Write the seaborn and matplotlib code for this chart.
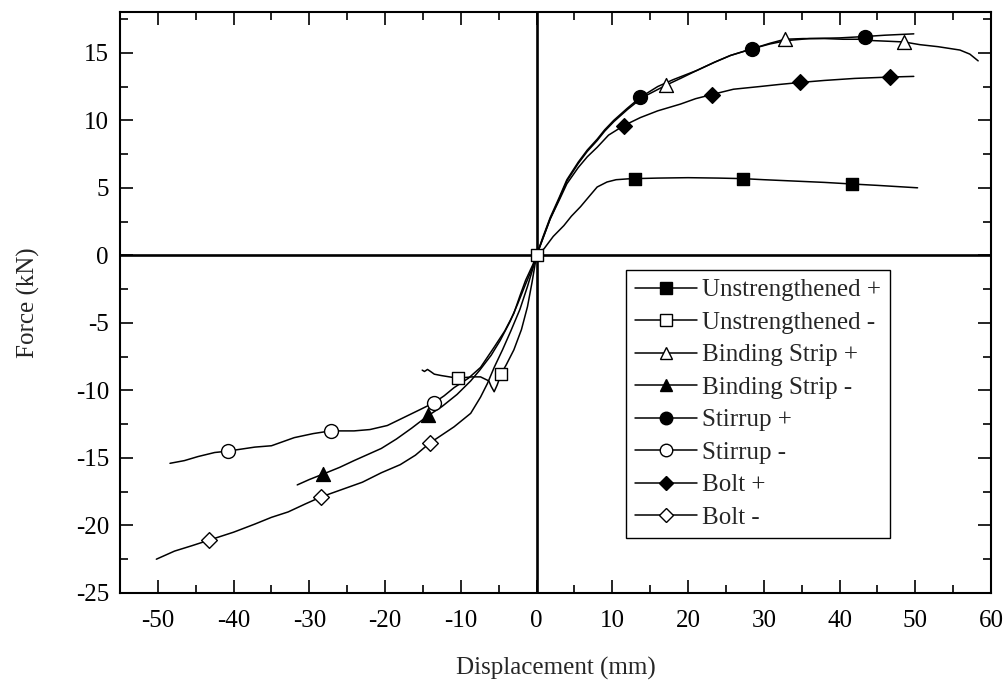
import numpy as np
import pandas as pd
import matplotlib
matplotlib.use("Agg")
import matplotlib.pyplot as plt
from matplotlib.lines import Line2D
from matplotlib.ticker import MultipleLocator
import seaborn as sns

# ---------------- data ----------------
series_names = ["Unstrengthened +", "Unstrengthened -", "Binding Strip +", "Binding Strip -",
                "Stirrup +", "Stirrup -", "Bolt +", "Bolt -"]

unstr_pos_x = [0, 1.0, 2.2, 3.6, 4.6, 5.8, 7.0, 8.0, 9.3, 10.5, 12, 13, 16, 20, 24, 27.2, 30, 34, 38, 41.7, 45, 50.3]
unstr_pos_y = [0, 0.5, 1.4, 2.2, 2.9, 3.6, 4.4, 5.06, 5.43, 5.6, 5.66, 5.68, 5.72, 5.75, 5.72, 5.68, 5.6, 5.5, 5.4, 5.28, 5.18, 5.0]
unstr_pos_mx = [13.0, 27.3, 41.7]
unstr_pos_my = [5.65, 5.68, 5.27]

unstr_neg_x = [0, -0.6, -1.2, -2.0, -3.0, -4.0, -4.7, -5.2, -5.6, -6.0, -6.3, -7.4, -8.5, -9.5, -10.4, -11.5, -12.6, -13.5, -14.0, -14.4, -14.8, -15.1]
unstr_neg_y = [0, -2.0, -3.8, -5.5, -7.0, -8.1, -8.8, -9.6, -10.1, -9.7, -9.3, -9.0, -9.0, -9.05, -9.1, -9.0, -8.9, -8.8, -8.6, -8.45, -8.6, -8.5]
unstr_neg_mx = [0, -4.7, -10.4]
unstr_neg_my = [0, -8.8, -9.1]

bind_pos_x = [0, 0.8, 1.8, 3.0, 4.0, 5.5, 6.7, 8.0, 9.0, 10.2, 12, 14, 17.1, 19, 21.2, 23.5, 25.6, 28.5, 30.8, 32.8,
              35.2, 38, 40.5, 43, 44.4, 46.5, 48.5, 50.6, 53, 55.9, 57.2, 58.3]
bind_pos_y = [0, 1.2, 2.7, 4.2, 5.5, 6.8, 7.7, 8.5, 9.2, 9.9, 10.8, 11.7, 12.6, 13.1, 13.7, 14.3, 14.8, 15.3, 15.7, 16.0,
              16.05, 16.05, 16.0, 16.0, 15.9, 15.85, 15.8, 15.6, 15.45, 15.2, 14.9, 14.4]
bind_pos_mx = [17.1, 32.8, 48.5]
bind_pos_my = [12.6, 16.05, 15.8]

bind_neg_x = [0, -0.6, -1.5, -2.5, -3.5, -4.8, -6.0, -7.5, -8.7, -10.5, -12.5, -14.4, -16.5, -18.5, -20.5, -22.5, -24.1,
              -26, -28.2, -30, -31.6]
bind_neg_y = [0, -1.0, -2.2, -3.6, -4.9, -6.3, -7.4, -8.5, -9.3, -10.3, -11.2, -11.9, -12.8, -13.6, -14.3, -14.8, -15.2,
              -15.7, -16.2, -16.6, -17.0]
bind_neg_mx = [-14.3, -28.2]
bind_neg_my = [-11.8, -16.2]

stir_pos_x = [0, 0.8, 1.8, 3.0, 4.0, 5.5, 6.7, 8.0, 9.0, 10.2, 12, 13.7, 16, 18, 21.2, 23.5, 25.6, 28.5, 30.8, 33, 36,
              40, 43.3, 46, 49.8]
stir_pos_y = [0, 1.3, 2.8, 4.3, 5.6, 6.9, 7.8, 8.6, 9.3, 10.0, 10.9, 11.7, 12.5, 13.0, 13.7, 14.3, 14.8, 15.3, 15.65,
              15.9, 16.05, 16.1, 16.2, 16.3, 16.4]
stir_pos_mx = [13.7, 28.5, 43.3]
stir_pos_my = [11.7, 15.3, 16.2]

stir_neg_x = [0, -0.5, -1.45, -2.2, -3.0, -4.2, -5.6, -7.4, -9.0, -10.9, -12.2, -13.5, -15.3, -17.5, -19.7, -22, -24.1,
              -27.2, -29.5, -32.0, -35.0, -37.2, -40.8, -42.5, -44.7, -46.5, -48.4]
stir_neg_y = [0, -0.7, -1.85, -3.0, -4.3, -5.6, -6.8, -8.3, -9.1, -9.8, -10.4, -10.9, -11.4, -12.0, -12.6, -12.9, -13.0,
              -13.0, -13.2, -13.5, -14.1, -14.2, -14.5, -14.6, -14.9, -15.2, -15.4]
stir_neg_mx = [-13.5, -27.2, -40.8]
stir_neg_my = [-10.9, -13.0, -14.5]

bolt_pos_x = [0, 0.8, 1.8, 3.0, 4.0, 5.5, 6.7, 8.0, 9.5, 11.5, 13.7, 16, 19, 21, 23.1, 26, 29.5, 32, 34.8, 38, 42, 46.6, 49.8]
bolt_pos_y = [0, 1.2, 2.7, 4.1, 5.3, 6.5, 7.3, 8.0, 8.9, 9.6, 10.2, 10.7, 11.2, 11.6, 11.9, 12.3, 12.5, 12.65, 12.8,
              12.95, 13.1, 13.2, 13.25]
bolt_pos_mx = [11.5, 23.1, 34.8, 46.6]
bolt_pos_my = [9.6, 11.9, 12.8, 13.2]

bolt_neg_x = [0, -0.5, -1.2, -2.2, -3.4, -4.5, -5.6, -6.5, -7.4, -8.7, -10.9, -12.5, -14.1, -16, -18, -20.5, -23, -25.5,
              -28.5, -30.5, -32.8, -35, -37.2, -40, -43.3, -45.5, -47.8, -50.2]
bolt_neg_y = [0, -1.0, -2.3, -4.0, -5.6, -7.0, -8.3, -9.5, -10.5, -11.7, -12.7, -13.3, -13.9, -14.8, -15.5, -16.1, -16.8,
              -17.3, -17.9, -18.4, -19.0, -19.4, -19.9, -20.5, -21.1, -21.5, -21.9, -22.5]
bolt_neg_mx = [-14.1, -28.5, -43.3]
bolt_neg_my = [-13.9, -17.9, -21.1]

x_ticks = [-50, -40, -30, -20, -10, 0, 10, 20, 30, 40, 50, 60]
y_ticks = [-25, -20, -15, -10, -5, 0, 5, 10, 15]

curves = {
    "Unstrengthened +": (unstr_pos_x, unstr_pos_y, unstr_pos_mx, unstr_pos_my),
    "Unstrengthened -": (unstr_neg_x, unstr_neg_y, unstr_neg_mx, unstr_neg_my),
    "Binding Strip +": (bind_pos_x, bind_pos_y, bind_pos_mx, bind_pos_my),
    "Binding Strip -": (bind_neg_x, bind_neg_y, bind_neg_mx, bind_neg_my),
    "Stirrup +": (stir_pos_x, stir_pos_y, stir_pos_mx, stir_pos_my),
    "Stirrup -": (stir_neg_x, stir_neg_y, stir_neg_mx, stir_neg_my),
    "Bolt +": (bolt_pos_x, bolt_pos_y, bolt_pos_mx, bolt_pos_my),
    "Bolt -": (bolt_neg_x, bolt_neg_y, bolt_neg_mx, bolt_neg_my),
}

# ---------------- style ----------------
sns.set_style("ticks")
plt.rcParams["font.family"] = ["Liberation Serif", "DejaVu Serif"]
plt.rcParams["font.size"] = 18
plt.rcParams["axes.linewidth"] = 1.5

styles = {
    "Unstrengthened +": dict(marker="s", face="black", ms=9.0),
    "Unstrengthened -": dict(marker="s", face="white", ms=9.0),
    "Binding Strip +": dict(marker="^", face="white", ms=10.0),
    "Binding Strip -": dict(marker="^", face="black", ms=10.0),
    "Stirrup +": dict(marker="o", face="black", ms=10.0),
    "Stirrup -": dict(marker="o", face="white", ms=10.0),
    "Bolt +": dict(marker="D", face="black", ms=8.0),
    "Bolt -": dict(marker="D", face="white", ms=8.0),
}

fig = plt.figure(figsize=(10.05, 6.8), dpi=100)
ax = fig.add_axes([0.1194, 0.128, 0.8667, 0.854])

# zero lines
ax.axhline(0, color="black", lw=1.9, zorder=1)
ax.axvline(0, color="black", lw=1.9, zorder=1)

line_frames = []
for name in series_names:
    xs, ys, mx, my = curves[name]
    line_frames.append(pd.DataFrame({"x": xs, "y": ys, "series": name, "order": range(len(xs))}))
lines_df = pd.concat(line_frames, ignore_index=True)

sns.lineplot(data=lines_df, x="x", y="y", units="series", estimator=None, sort=False,
             color="black", lw=1.1, legend=False, ax=ax, zorder=2)

for name in series_names:
    xs, ys, mx, my = curves[name]
    st = styles[name]
    mdf = pd.DataFrame({"x": mx, "y": my})
    sns.scatterplot(data=mdf, x="x", y="y", marker=st["marker"], s=st["ms"] ** 2,
                    color=st["face"], edgecolor="black", linewidth=1.0, legend=False, ax=ax, zorder=3)

ax.set_xlim(-55, 60)
ax.set_ylim(-25, 18)
ax.set_xticks(x_ticks)
ax.set_yticks(y_ticks)
ax.set_xticklabels([str(v) for v in x_ticks])
ax.set_yticklabels([str(v) for v in y_ticks])
ax.xaxis.set_minor_locator(MultipleLocator(5))
ax.yaxis.set_minor_locator(MultipleLocator(2.5))
ax.tick_params(which="both", direction="in", top=True, right=True, width=1.2, colors="black")
ax.tick_params(which="major", length=9.5)
ax.tick_params(which="minor", length=5.5)
ax.tick_params(axis="x", which="major", pad=12, labelsize=18)
ax.tick_params(axis="y", which="major", pad=8, labelsize=18)
for sp in ax.spines.values():
    sp.set_visible(True)
    sp.set_linewidth(1.5)
    sp.set_color("black")

ax.set_xlabel("Displacement (mm)", fontsize=18, labelpad=18)
ax.set_ylabel("Force (kN)", fontsize=18, labelpad=26)

handles = []
for name in series_names:
    st = styles[name]
    handles.append(Line2D([], [], color="black", lw=1.1, marker=st["marker"], markersize=st["ms"] * 0.9,
                          markerfacecolor=st["face"], markeredgecolor="black", markeredgewidth=1.0))
leg = ax.legend(handles, series_names, loc="upper left", bbox_to_anchor=(0.581, 0.556),
                borderaxespad=0, frameon=True, fancybox=False, shadow=False, framealpha=1,
                edgecolor="black", fontsize=18, handlelength=2.5, handletextpad=0.2,
                labelspacing=0.4, borderpad=0.35)
leg.get_frame().set_linewidth(1.0)

fig.savefig("out.png", dpi=100)
